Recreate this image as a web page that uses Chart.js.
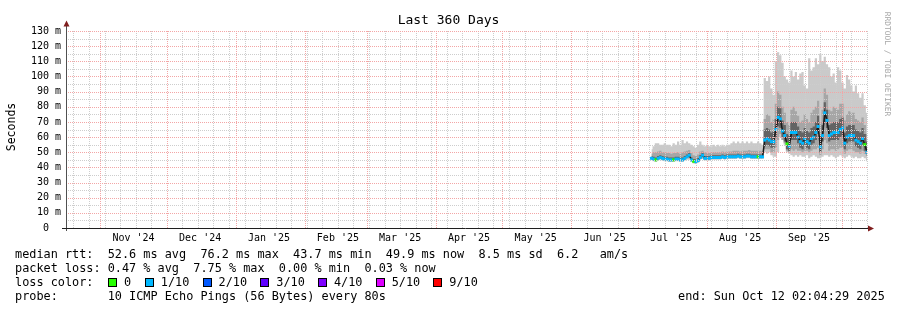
<!DOCTYPE html>
<html>
<head>
<meta charset="utf-8">
<script src="https://cdn.jsdelivr.net/npm/chart.js@4.4.1/dist/chart.umd.min.js"></script>
<style>
body { margin: 0; background: #fff; }
#wrap { position: relative; width: 897px; height: 310px; overflow: hidden; font-family: "DejaVu Sans Mono", monospace; color: #000; }
canvas { position: absolute; left: 0; top: 0; }
.t { position: absolute; white-space: pre; }
.lg { left: 15px; font-size: 11.85px; line-height: 14px; }
.sq { position: absolute; top: 278px; width: 7px; height: 7px; border: 1px solid #000; }
</style>
</head>
<body>
<div id="wrap">
  <canvas id="myChart" width="897" height="310"></canvas>
  <div class="t" id="title" style="left:0;width:897px;top:12px;text-align:center;font-size:13px;line-height:15px;">Last 360 Days</div>
  <div class="t" style="left:-39px;top:119.5px;width:100px;text-align:center;font-size:11.5px;line-height:14px;transform:rotate(-90deg);">Seconds</div>
  <div class="t" style="left:822px;top:59px;width:130px;text-align:center;font-size:7.9px;line-height:10px;color:#a8a8a8;transform:rotate(90deg);">RRDTOOL / TOBI OETIKER</div>
  <div class="t lg" style="top:247px;">median rtt:  52.6 ms avg  76.2 ms max  43.7 ms min  49.9 ms now  8.5 ms sd  6.2   am/s</div>
  <div class="t lg" style="top:261px;">packet loss: 0.47 % avg  7.75 % max  0.00 % min  0.03 % now</div>
  <div class="t lg" style="top:275px;">loss color:</div>
  <div class="t lg" style="top:289px;">probe:       10 ICMP Echo Pings (56 Bytes) every 80s</div>
  <div class="t lg" style="top:289px;left:678px;">end: Sun Oct 12 02:04:29 2025</div>
</div>
<script>
// x values are days since the start of the graph (Oct 17 2024 02:04)
var firstDay = 263;

var monthLabels = ["Nov '24", "Dec '24", "Jan '25", "Feb '25", "Mar '25", "Apr '25", "May '25", "Jun '25", "Jul '25", "Aug '25", "Sep '25"];
var monthLabelDays = [29.91, 59.91, 90.91, 121.91, 149.91, 180.91, 210.91, 241.91, 271.91, 302.91, 333.91];
var monthStartDays = [14.91, 44.91, 75.91, 106.91, 134.91, 165.91, 195.91, 226.91, 256.91, 287.91, 318.91, 348.91];
var firstSunday = 2.91;

var lossLabels = ["0", "1/10", "2/10", "3/10", "4/10", "5/10", "9/10"];
var lossColors = ["#26ff00", "#00b8ff", "#0059ff", "#5e00ff", "#7e00ff", "#dd00ff", "#ff0000"];

// median rtt (ms), one value per day
var medianRtt = [46,45.5,45,46,46.5,46,45.5,45.5,45,45, 45,45.5,45.5,45,45,46,47,48,45,44,
  43.8,44.5,46.5,48,46,46,46,46.5,46.5,46.5, 46.5,46.5,47,46.5,47,47,47,47,47,47.5,
  47,47,47,47.5,47.5,47,47,47,47,47, 47,
  58,59,58,57,57,65,73,72,64,61, 55.5,54,63,63,63,60,57,56,59,57,
  56,59,60,63,67,53.5,61,76,71,61, 62,63,63,63,65,66,56,60,61,61, 61,58,57,56,59,55,50];
// loss level index into lossColors
var lossLevel = [1,1,0,1,1,1,1,1,1,1, 0,1,1,1,1,1,1,1,1,0, 1,1,1,1,1,1,1,1,1,1,
  1,1,1,1,1,1,1,1,1,1, 1,1,1,1,1,1,1,1,0,1, 1,
  1,1,1,1,1,1,1,1,1,1, 0,1,1,1,1,1,1,1,1,1, 1,1,1,1,1,1,1,1,1,1,
  1,1,1,1,1,1,1,1,1,1, 1,1,1,1,1,0,1];
// smoke: slowest ping / fastest ping
var maxRtt = [52,54,56,56,55,55,56,55,55,54, 56,55,57,55,58,56,57,56,55,54,
  53,55,57,55,54,55,54,54,55,54, 55,54,55,54,55,55,56,57,56,57,
  56,57,56,57,56,57,56,56,57,56, 55,
  99,97,100,92,88,110,116,114,109,100, 98,96,104,100,103,98,102,103,94,92,
  112,104,106,112,108,115,110,113,108,106, 100,102,96,106,104,96,92,101,98,94, 90,94,89,86,89,81,76];
var minRtt = [44.5,44,43.5,44.5,45,44.5,44,44,43.5,43.5, 43.5,44,44,43.5,43.5,44.5,45,45,43.5,42.5,
  42.3,43,45,45.5,44.5,44.5,44.5,45,45,45, 45,45,45.5,45,45.5,45.5,45.5,45.5,45.5,46,
  45.5,45.5,45.5,46,46,45.5,45.5,45.5,45.5,45.5, 45.5,
  50,49,50,48,47,47,50,60,58,55, 50,49,48,47,48,47,48,47,47,48,
  46,47,48,47,46,46,47,48,48,47, 48,47,46,47,48,47,46,47,48,47, 46,47,46,46,47,46,44];
// 2nd and 9th ping
var hiRtt2 = [49,50,50,50.5,51,50,50,49.5,49.5,49, 49.5,49.5,50,49,50,50.5,51,51.5,49.5,48,
  47.5,48.5,50.5,51,50,49.5,49.5,50,50,50, 50,50,50.5,50,50.5,50.5,50.5,51,51,51,
  50.5,51,51,51,51.5,51,51,51,51,51, 50.5,
  72,75,74,70,72,82,90,88,80,76, 70,68,78,80,77,74,70,71,75,72,
  70,76,78,80,84,70,78,92,88,78, 77,80,79,78,82,82,71,75,77,76, 76,72,71,70,73,68,62];
var loRtt2 = [45,44.5,44,45,45.5,45,44.5,44.5,44,44, 44,44.5,44.5,44,44,45,46,46,44,43,
  42.8,43.5,45.5,46,45,45,45,45.5,45.5,45.5, 45.5,45.5,46,45.5,46,46,46,46,46,46.5,
  46,46,46,46.5,46.5,46,46,46,46,46, 46,
  52,52,52,50,50,53,58,62,58,56, 51,50,52,51,52,51,51,50,51,51,
  50,51,52,52,53,48,52,58,56,51, 52,52,51,52,53,53,49,51,52,52, 51,50,50,49,51,49,47.5];
// 3rd and 8th ping
var hiRtt1 = [47.5,47,46.5,47.5,48,47.5,47,47,46.5,46.5, 46.5,47,47,46.5,46.5,47.5,48.5,49.5,46.5,45.5,
  45.3,46,48,49.5,47.5,47.5,47.5,48,48,48, 48,48,48.5,48,48.5,48.5,48.5,48.5,48.5,49,
  48.5,48.5,48.5,49,49,48.5,48.5,48.5,48.5,48.5, 48.5,
  65,66,65,63,64,72,80,79,71,68, 62,61,70,70,70,67,64,63,66,64,
  63,66,67,70,74,61,68,83,78,68, 69,70,70,70,72,73,63,67,68,68, 68,65,64,63,66,62,57];
var loRtt1 = [45.5,45,44.5,45.5,46,45.5,45,45,44.5,44.5, 44.5,45,45,44.5,44.5,45.5,46.5,47,44.5,43.5,
  43.3,44,46,47,45.5,45.5,45.5,46,46,46, 46,46,46.5,46,46.5,46.5,46.5,46.5,46.5,47,
  46.5,46.5,46.5,47,47,46.5,46.5,46.5,46.5,46.5, 46.5,
  54,55,54,53,53,60,67,66,60,57, 52,51,58,58,58,56,53,52,55,53,
  52,55,56,58,62,50,57,70,66,57, 58,58,58,58,60,61,52,56,57,57, 57,54,53,52,55,51,49];

function pts(arr) {
  return arr.map(function (v, i) { return {x: firstDay + i, y: v}; });
}

// loss colour legend
var wrap = document.getElementById('wrap');
var sx = 108;
for (var k = 0; k < lossLabels.length; k++) {
  var sq = document.createElement('div');
  sq.className = 'sq';
  sq.style.left = sx + 'px';
  sq.style.background = lossColors[k];
  wrap.appendChild(sq);
  var lb = document.createElement('div');
  lb.className = 't lg';
  lb.style.top = '275px';
  lb.style.left = (sx + 16) + 'px';
  lb.textContent = lossLabels[k];
  wrap.appendChild(lb);
  sx = sx + 16 + (lossLabels[k].length + 2) * 6.95;
}

// x ticks: only the month labels get text, grid is drawn by the plugin below
var xTicks = monthLabelDays.map(function (d, i) { return {value: d, text: monthLabels[i]}; });
var sundays = [];
for (var d = firstSunday; d <= 360; d += 7) sundays.push(d);

var gridGrey = '#cdcdcd';
var gridRed = '#f3a6a6';

// dotted rrdtool style grid, drawn over the smoke
var gridPlugin = {
  id: 'rrdgrid',
  afterDatasetsDraw: function (chart) {
    var ctx = chart.ctx, a = chart.chartArea;
    var xs = chart.scales.x, ys = chart.scales.y;
    function vline(v, col) {
      var px = Math.round(xs.getPixelForValue(v));
      ctx.fillStyle = col;
      for (var y = a.top; y < a.bottom; y += 2) ctx.fillRect(px, y, 1, 1);
    }
    function hline(v, col) {
      var py = Math.round(ys.getPixelForValue(v));
      ctx.fillStyle = col;
      for (var x = a.left + 1; x < a.right; x += 2) ctx.fillRect(x, py, 1, 1);
    }
    ctx.save();
    sundays.forEach(function (v) { vline(v, gridGrey); });
    for (var v = 5; v <= 130; v += 5) hline(v, v % 10 === 0 ? gridRed : gridGrey);
    monthStartDays.forEach(function (v) { vline(v, gridRed); });
    ctx.restore();
  }
};

var axisPlugin = {
  id: 'axes',
  afterDraw: function (chart) {
    var ctx = chart.ctx, a = chart.chartArea;
    ctx.save();
    ctx.lineWidth = 1;
    ctx.strokeStyle = '#505050';
    ctx.beginPath();
    ctx.moveTo(a.left - 0.5, 231);
    ctx.lineTo(a.left - 0.5, 25);
    ctx.stroke();
    ctx.strokeStyle = '#1f1f1f';
    ctx.beginPath();
    ctx.moveTo(62, a.bottom + 0.5);
    ctx.lineTo(a.right + 2, a.bottom + 0.5);
    ctx.stroke();
    ctx.fillStyle = '#801f1f';
    ctx.beginPath();
    ctx.moveTo(a.left - 0.5, 20.5);
    ctx.lineTo(a.left - 3.5, 26.5);
    ctx.lineTo(a.left + 2.5, 26.5);
    ctx.closePath();
    ctx.fill();
    ctx.beginPath();
    ctx.moveTo(a.right + 7, a.bottom + 0.5);
    ctx.lineTo(a.right + 1, a.bottom - 2.5);
    ctx.lineTo(a.right + 1, a.bottom + 3.5);
    ctx.closePath();
    ctx.fill();
    ctx.restore();
  }
};

var noLine = 'rgba(0,0,0,0)';
Chart.defaults.font.family = "'DejaVu Sans Mono', monospace";
Chart.defaults.font.size = 10;
Chart.defaults.color = '#000';

var myChart = new Chart(document.getElementById('myChart'), {
  type: 'line',
  data: {
    datasets: [{
      data: pts(medianRtt),
      showLine: false,
      pointStyle: 'rect',
      pointRadius: 2.1,
      pointBorderWidth: 0,
      pointBackgroundColor: lossLevel.map(function (l) { return lossColors[l]; })
    }, {
      data: pts(medianRtt),
      borderColor: '#1a1a1a',
      borderWidth: 1.5,
      pointRadius: 0,
      fill: false
    }, {
      data: pts(hiRtt1),
      fill: 3,
      backgroundColor: '#636363',
      borderColor: noLine, borderWidth: 0, pointRadius: 0, stepped: 'middle'
    }, {
      data: pts(loRtt1),
      fill: false,
      borderColor: noLine, borderWidth: 0, pointRadius: 0, stepped: 'middle'
    }, {
      data: pts(hiRtt2),
      fill: 5,
      backgroundColor: '#a6a6a6',
      borderColor: noLine, borderWidth: 0, pointRadius: 0, stepped: 'middle'
    }, {
      data: pts(loRtt2),
      fill: false,
      borderColor: noLine, borderWidth: 0, pointRadius: 0, stepped: 'middle'
    }, {
      data: pts(maxRtt),
      fill: 7,
      backgroundColor: '#cacaca',
      borderColor: noLine, borderWidth: 0, pointRadius: 0, stepped: 'middle'
    }, {
      data: pts(minRtt),
      fill: false,
      borderColor: noLine, borderWidth: 0, pointRadius: 0, stepped: 'middle'
    }]
  },
  options: {
    responsive: false,
    animation: false,
    events: [],
    layout: {padding: {left: 0, right: 30, top: 31, bottom: 0}},
    plugins: {legend: {display: false}, tooltip: {enabled: false}},
    scales: {
      x: {
        type: 'linear',
        min: 0,
        max: 360,
        afterBuildTicks: function (scale) { scale.ticks = xTicks; },
        afterFit: function (scale) { scale.height = 82; },
        ticks: {
          autoSkip: false,
          maxRotation: 0,
          padding: 4,
          callback: function (v, i, ticks) { return ticks[i].text; }
        },
        grid: {display: false, drawTicks: false},
        border: {display: false}
      },
      y: {
        min: 0,
        max: 130,
        afterFit: function (scale) { scale.width = 67; },
        ticks: {
          stepSize: 10,
          autoSkip: false,
          padding: 6,
          callback: function (v) { return v === 0 ? '0  ' : v + ' m'; }
        },
        grid: {display: false, drawTicks: false},
        border: {display: false}
      }
    }
  },
  plugins: [gridPlugin, axisPlugin]
});
</script>
</body>
</html>
